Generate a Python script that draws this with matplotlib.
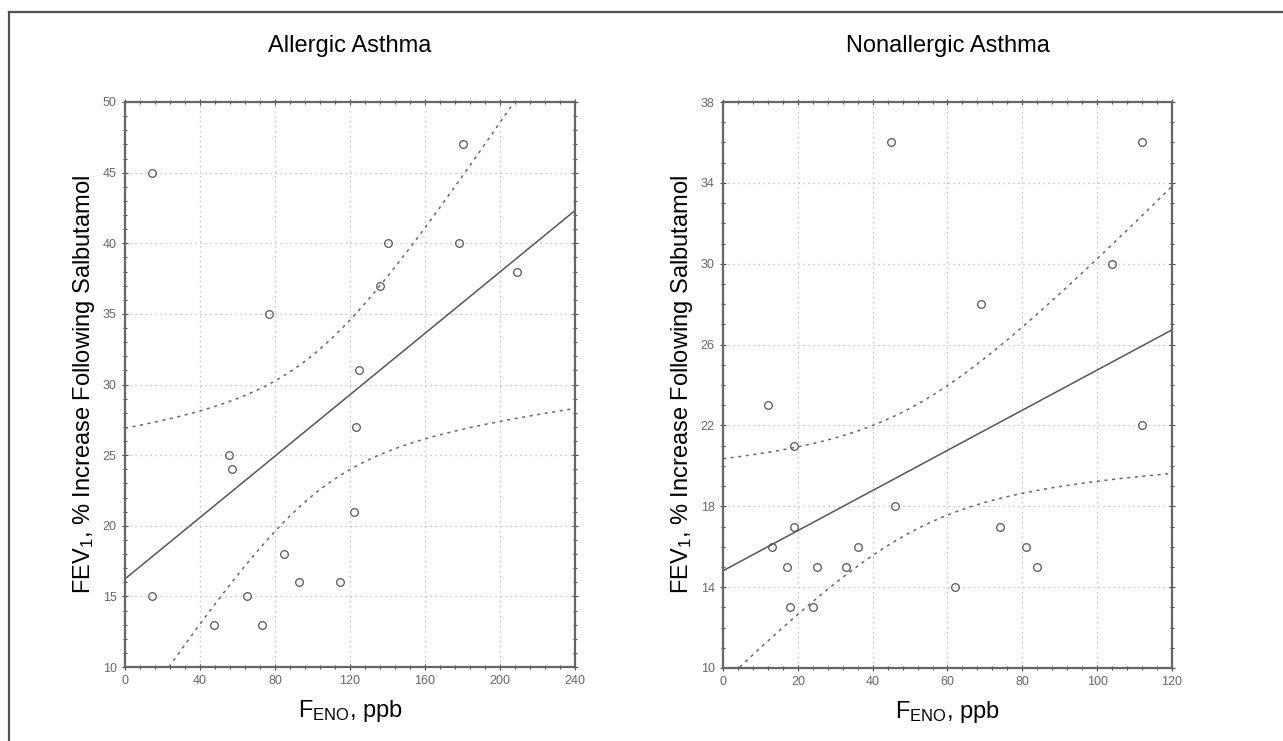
import numpy as np
import matplotlib.pyplot as plt
from matplotlib.lines import Line2D
from matplotlib.ticker import MultipleLocator, FixedLocator

plt.rcParams['font.family'] = ['Liberation Sans', 'DejaVu Sans']
plt.rcParams['mathtext.fontset'] = 'custom'
plt.rcParams['mathtext.rm'] = 'Liberation Sans'
plt.rcParams['mathtext.it'] = 'Liberation Sans'

# данные: аллергическая астма (FENO, ppb / прирост FEV1, %)
allergic_feno = [14.5, 180, 140, 178, 209, 136, 77, 125, 123, 55.5,
                 57, 122, 85, 93, 114.5, 14.5, 65, 47.5, 73]
allergic_fev = [45, 47, 40, 40, 38, 37, 35, 31, 27, 25,
                24, 21, 18, 16, 16, 15, 15, 13, 13]

# неаллергическая астма
nonallergic_feno = [45, 112, 104, 69, 12, 19, 112, 46, 19, 74,
                    13, 36, 81, 17, 25, 33, 84, 62, 18, 24]
nonallergic_fev = [36, 36, 30, 28, 23, 21, 22, 18, 17, 17,
                   16, 16, 16, 15, 15, 15, 15, 14, 13, 13]

titles = ['Allergic Asthma', 'Nonallergic Asthma']
x_limits = [(0, 240), (0, 120)]
y_limits = [(10, 50), (10, 38)]
x_major = [40, 20]
x_minor = [8, 4]
y_ticks = [np.arange(10, 51, 5), np.arange(10, 39, 4)]
t_values = [2.110, 2.101]  # t(0.975) для df = n - 2

fig = plt.figure(figsize=(12.83, 7.41), dpi=100)

# рамка вокруг рисунка (видны только верх и левый край)
fig.add_artist(Line2D([9 / 1283, 1.0], [1 - 12 / 741, 1 - 12 / 741], color='#505050', lw=1.6, transform=fig.transFigure))
fig.add_artist(Line2D([9 / 1283, 9 / 1283], [0.0, 1 - 12 / 741], color='#505050', lw=1.6, transform=fig.transFigure))

positions = [[125 / 1283, 74 / 741, 450 / 1283, 565 / 741],
             [723 / 1283, 73 / 741, 449 / 1283, 566 / 741]]
datasets = [(allergic_feno, allergic_fev), (nonallergic_feno, nonallergic_fev)]

for i in range(2):
    ax = fig.add_axes(positions[i])
    x = np.array(datasets[i][0], dtype=float)
    y = np.array(datasets[i][1], dtype=float)

    # линейная регрессия и 95% доверительный интервал
    slope, intercept = np.polyfit(x, y, 1)
    n = len(x)
    resid = y - (slope * x + intercept)
    s = np.sqrt(np.sum(resid ** 2) / (n - 2))
    sxx = np.sum((x - x.mean()) ** 2)
    xs = np.linspace(x_limits[i][0], x_limits[i][1], 200)
    fit = slope * xs + intercept
    half = t_values[i] * s * np.sqrt(1 / n + (xs - x.mean()) ** 2 / sxx)

    ax.plot(xs, fit, color='#555555', lw=1.1)
    ax.plot(xs, fit + half, color='#666666', lw=1.1, ls=(0, (2, 3)))
    ax.plot(xs, fit - half, color='#666666', lw=1.1, ls=(0, (2, 3)))
    ax.plot(x, y, 'o', ms=5.5, mfc='none', mec='#555555', mew=0.9)

    ax.set_xlim(*x_limits[i])
    ax.set_ylim(*y_limits[i])
    ax.xaxis.set_major_locator(MultipleLocator(x_major[i]))
    ax.xaxis.set_minor_locator(MultipleLocator(x_minor[i]))
    ax.yaxis.set_major_locator(FixedLocator(y_ticks[i]))
    ax.yaxis.set_minor_locator(MultipleLocator(1))
    ax.grid(True, which='major', color='#b5b5b5', lw=0.9, ls=(0, (1, 3)))
    ax.tick_params(which='both', direction='inout', top=True, right=True,
                   colors='#4a4a4a', labelcolor='#666666', labelsize=9)
    ax.tick_params(which='major', length=4, width=0.8, pad=4)
    ax.tick_params(which='minor', length=3, width=0.8)
    for sp in ax.spines.values():
        sp.set_color('#666666')
        sp.set_linewidth(1.6)

    ax.set_ylabel('FEV$_1$, % Increase Following Salbutamol', fontsize=17, labelpad=4)
    ax.set_xlabel('F$_{\\mathrm{ENO}}$, ppb', fontsize=17, labelpad=8)
    ax.set_title(titles[i], fontsize=17, pad=36)

fig.savefig('out.png', dpi=100)
